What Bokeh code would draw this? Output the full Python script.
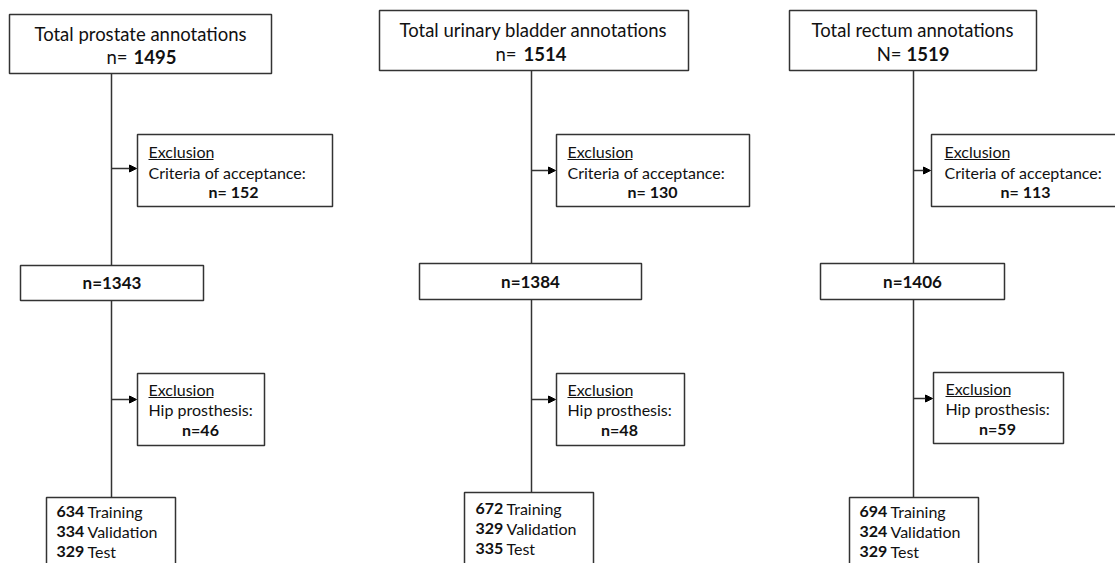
from bokeh.plotting import figure
from bokeh.models import Range1d, Arrow, NormalHead
from bokeh.core.properties import value
from bokeh.embed import file_html
from bokeh.resources import INLINE

# ---------------- data ----------------
organs = ["prostate", "urinary bladder", "rectum"]
total_prefix = ["n=", "n=", "N="]
totals = [1495, 1514, 1519]
excl_criteria = [152, 130, 113]
after_criteria = [1343, 1384, 1406]
excl_hip = [46, 48, 59]
training = [634, 672, 694]
validation = [334, 329, 324]
test = [329, 335, 329]

# ---------------- layout (picture pixel coordinates) ----------------
spine_x = [111, 531, 913]
top_box = [(9, 271, 14, 73), (379, 688, 10, 70), (789, 1036, 10, 70)]
top_text_y = [(33, 56), (29, 53), (29, 53)]
top_center = [140, 533, 912]
n_split = [(127, 133), (516, 523), (901, 906)]
ex1_box = [(137, 332, 134, 206), (556, 749, 134, 206), (931, 1140, 134, 206)]
ex1_text_x = [148, 567, 944]
ex1_num_x = [233, 652, 1025]
ex1_y = (151, 172, 191)
mid_box = [(20, 203, 265, 300), (419, 641, 263, 299), (820, 1004, 263, 299)]
mid_y = [282, 281, 281]
ex2_box = [(137, 264, 373, 445), (556, 684, 373, 445), (933, 1063, 372, 443)]
ex2_text_x = [148, 567, 945]
ex2_num_x = [200, 619, 997]
ex2_y = [(389, 409, 429), (389, 409, 429), (388, 408, 428)]
arrow_y = [(168, 399), (170, 399), (170, 398)]
bot_box = [(46, 175, 497, 600), (464, 593, 492, 600), (849, 978, 497, 600)]
bot_num_x = [56, 475, 859]
bot_lab_x = [87, 506, 890]
bot_y = [(511, 531, 551), (508, 528, 548), (511, 531, 551)]

LINE = "#333333"
FONT = value("Lato")

p = figure(width=1115, height=563, x_range=Range1d(0, 1115), y_range=Range1d(563, 0),
           output_backend="svg", toolbar_location=None, min_border=0,
           x_axis_type=None, y_axis_type=None)
p.grid.visible = False
p.outline_line_color = None
p.background_fill_color = "white"


def box(b):
    l, r, t, bt = b
    p.quad(left=[l], right=[r], top=[t], bottom=[bt], fill_color="white",
           line_color=LINE, line_width=1.5)


def txt(x, y, s, size, bold=False, align="left"):
    p.text(x=[x], y=[y], text=[s], text_font=FONT, text_font_size=f"{size}px",
           text_font_style="bold" if bold else "normal", text_align=align,
           text_baseline="middle", text_color="#111111")


for i in range(3):
    sx = spine_x[i]
    p.segment(x0=[sx, sx], y0=[top_box[i][3], mid_box[i][3]],
              x1=[sx, sx], y1=[mid_box[i][2], bot_box[i][2]],
              line_color=LINE, line_width=1.5)
    for j, eb in enumerate([ex1_box[i], ex2_box[i]]):
        p.add_layout(Arrow(end=NormalHead(size=7, fill_color="black", line_color="black"),
                           x_start=sx, y_start=arrow_y[i][j], x_end=eb[0] - 1, y_end=arrow_y[i][j],
                           line_color=LINE, line_width=1.5))
    box(top_box[i])
    txt(top_center[i], top_text_y[i][0], f"Total {organs[i]} annotations", 18.5, align="center")
    txt(n_split[i][0], top_text_y[i][1], total_prefix[i], 18.5, align="right")
    txt(n_split[i][1], top_text_y[i][1], str(totals[i]), 18.5, bold=True)

    box(ex1_box[i])
    txt(ex1_text_x[i], ex1_y[0], "Exclusion", 16)
    p.segment(x0=[ex1_text_x[i]], x1=[ex1_text_x[i] + 65], y0=[ex1_y[0] + 8], y1=[ex1_y[0] + 8],
              line_color="#111111", line_width=1)
    txt(ex1_text_x[i], ex1_y[1], "Criteria of acceptance:", 16)
    txt(ex1_num_x[i], ex1_y[2], f"n= {excl_criteria[i]}", 16, bold=True, align="center")

    box(mid_box[i])
    txt((mid_box[i][0] + mid_box[i][1]) / 2, mid_y[i], f"n={after_criteria[i]}", 17, bold=True, align="center")

    box(ex2_box[i])
    txt(ex2_text_x[i], ex2_y[i][0], "Exclusion", 16)
    p.segment(x0=[ex2_text_x[i]], x1=[ex2_text_x[i] + 65], y0=[ex2_y[i][0] + 8], y1=[ex2_y[i][0] + 8],
              line_color="#111111", line_width=1)
    txt(ex2_text_x[i], ex2_y[i][1], "Hip prosthesis:", 16)
    txt(ex2_num_x[i], ex2_y[i][2], f"n={excl_hip[i]}", 16, bold=True, align="center")

    box(bot_box[i])
    for k, (num, lab) in enumerate([(training[i], "Training"), (validation[i], "Validation"), (test[i], "Test")]):
        txt(bot_num_x[i], bot_y[i][k], str(num), 16, bold=True)
        txt(bot_lab_x[i], bot_y[i][k], lab, 16)

open("out.html", "w").write(file_html(p, INLINE))
